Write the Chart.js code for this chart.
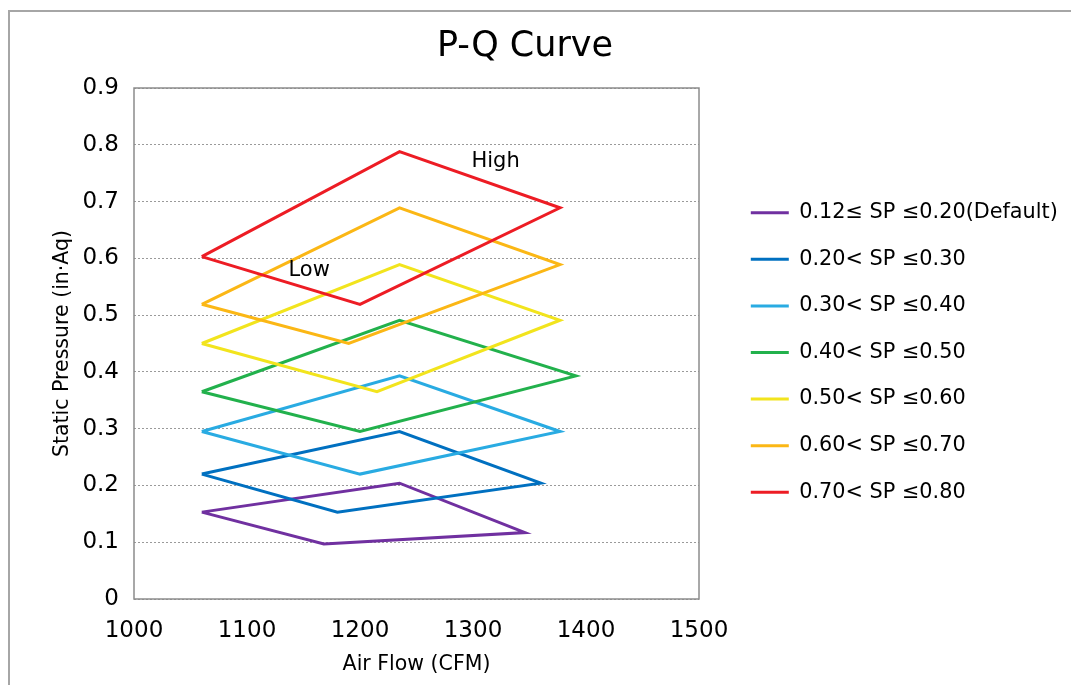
<!DOCTYPE html>
<html>
<head>
<meta charset="utf-8">
<script src="https://cdn.jsdelivr.net/npm/chart.js@4.4.1/dist/chart.umd.min.js"></script>
<style>
  html, body { margin: 0; padding: 0; background: #fff; overflow: hidden; }
  #frame { position: absolute; left: 8px; top: 10px; width: 1100px; height: 700px; border: 2px solid #a6a6a6; }
  #pq { position: absolute; left: 0; top: 0; }
</style>
</head>
<body>
<div id="frame"></div>
<canvas id="pq" width="1071" height="685"></canvas>
<script>
// Legend text of each SP band
const bandLabels = [
    "0.12≤ SP ≤0.20(Default)",
    "0.20< SP ≤0.30",
    "0.30< SP ≤0.40",
    "0.40< SP ≤0.50",
    "0.50< SP ≤0.60",
    "0.60< SP ≤0.70",
    "0.70< SP ≤0.80",
];

// Corner points of each band (CFM / in·Aq), loop closed back to the first point
const flowDefault = [1060, 1235, 1346, 1168, 1060];
const spDefault   = [0.153, 0.204, 0.117, 0.097, 0.153];
const flow030 = [1060, 1235, 1360, 1180, 1060];
const sp030   = [0.220, 0.295, 0.204, 0.153, 0.220];
const flow040 = [1060, 1235, 1377, 1200, 1060];
const sp040   = [0.295, 0.393, 0.295, 0.220, 0.295];
const flow050 = [1060, 1235, 1391, 1200, 1060];
const sp050   = [0.365, 0.491, 0.393, 0.295, 0.365];
const flow060 = [1060, 1235, 1377, 1215, 1060];
const sp060   = [0.450, 0.589, 0.491, 0.365, 0.450];
const flow070 = [1060, 1235, 1377, 1190, 1060];
const sp070   = [0.519, 0.689, 0.589, 0.450, 0.519];
const flow080 = [1060, 1235, 1377, 1200, 1060];
const sp080   = [0.603, 0.788, 0.689, 0.519, 0.603];

// Axis ticks
const flowTicks = [1000, 1100, 1200, 1300, 1400, 1500];
const spTicks = [0, 0.1, 0.2, 0.3, 0.4, 0.5, 0.6, 0.7, 0.8, 0.9];
const spTickLabels = ["0", "0.1", "0.2", "0.3", "0.4", "0.5", "0.6", "0.7", "0.8", "0.9"];

// Text notes inside the plot
const noteText = ["High", "Low"];
const noteFlow = [1320, 1155];
const noteSP = [0.770, 0.579];

const lineColors = ["#7030a0", "#0070c0", "#29abe2", "#22b14c", "#f2e41d", "#fbb715", "#ed1c24"];

const flows = [flowDefault, flow030, flow040, flow050, flow060, flow070, flow080];
const pressures = [spDefault, sp030, sp040, sp050, sp060, sp070, sp080];

Chart.defaults.font.family = '"DejaVu Sans", Verdana, sans-serif';
Chart.defaults.color = "#000";

// rahmen um plot + notizen
const plotFrame = {
    id: "plotFrame",
    afterDatasetsDraw(chart) {
        const { ctx, chartArea: a, scales: { x, y } } = chart;
        ctx.save();
        ctx.strokeStyle = "#8c8c8c";
        ctx.lineWidth = 1.5;
        ctx.strokeRect(a.left, a.top, a.right - a.left, a.bottom - a.top);
        ctx.fillStyle = "#000";
        ctx.font = '21px "DejaVu Sans"';
        ctx.textAlign = "center";
        ctx.textBaseline = "middle";
        noteText.forEach((t, i) => {
            ctx.fillText(t, x.getPixelForValue(noteFlow[i]), y.getPixelForValue(noteSP[i]));
        });
        ctx.restore();
    },
};

const datasets = bandLabels.map((label, i) => ({
    label: label,
    data: flows[i].map((f, k) => ({ x: f, y: pressures[i][k] })),
    borderColor: lineColors[i],
    backgroundColor: lineColors[i],
    borderWidth: 3,
    borderJoinStyle: "miter",
    showLine: true,
    fill: false,
    tension: 0,
    pointRadius: 0,
    order: -i, // later bands on top
}));

// unsichtbare achse, nur als abstand
const spacer = (w, weight) => ({
    type: "linear",
    position: "right",
    display: true,
    weight: weight,
    afterFit: (s) => { s.width = w; },
    grid: { display: false },
    ticks: { display: false },
    border: { display: false },
});

new Chart(document.getElementById("pq"), {
    type: "scatter",
    data: { datasets },
    options: {
        responsive: false,
        animation: false,
        events: [],
        // linker rand negativ, damit der titel wie im original sitzt
        layout: { padding: { top: 20, left: -21, right: 0, bottom: 0 } },
        scales: {
            x: {
                type: "linear",
                min: 1000,
                max: 1500,
                afterBuildTicks: (s) => { s.ticks = flowTicks.map((v) => ({ value: v })); },
                afterFit: (s) => { s.height = 86; },
                grid: { display: false, drawTicks: false, tickLength: 0 },
                border: { display: false },
                ticks: { padding: 18, font: { size: 23 }, callback: (v) => String(v) },
                title: { display: true, text: "Air Flow (CFM)", font: { size: 20.5 }, padding: { top: 7, bottom: 8 } },
            },
            y: {
                type: "linear",
                min: 0,
                max: 0.9,
                afterBuildTicks: (s) => { s.ticks = spTicks.map((v) => ({ value: v })); },
                afterFit: (s) => { s.width = 155; },
                grid: { color: "#9a9a9a", lineWidth: 1, drawTicks: false, tickLength: 0 },
                border: { display: false, dash: [2, 2] },
                ticks: { padding: 15, font: { size: 23 }, callback: (v, i) => spTickLabels[i] },
                title: { display: true, text: "Static Pressure (in·Aq)", font: { size: 20.5 }, padding: { top: 71, bottom: 0 } },
            },
            gapInner: spacer(26, 0),
            gapOuter: spacer(10, 2000),
        },
        plugins: {
            title: {
                display: true,
                text: "P-Q Curve",
                font: { size: 35, weight: "normal" },
                padding: { top: 6, bottom: 20 },
            },
            legend: {
                position: "right",
                align: "center",
                maxWidth: 336,
                labels: {
                    usePointStyle: true,
                    pointStyle: "line",
                    pointStyleWidth: 38,
                    padding: 25.8,
                    font: { size: 20.8 },
                    sort: (a, b) => a.datasetIndex - b.datasetIndex,
                },
            },
            tooltip: { enabled: false },
        },
    },
    plugins: [plotFrame],
});
</script>
</body>
</html>
